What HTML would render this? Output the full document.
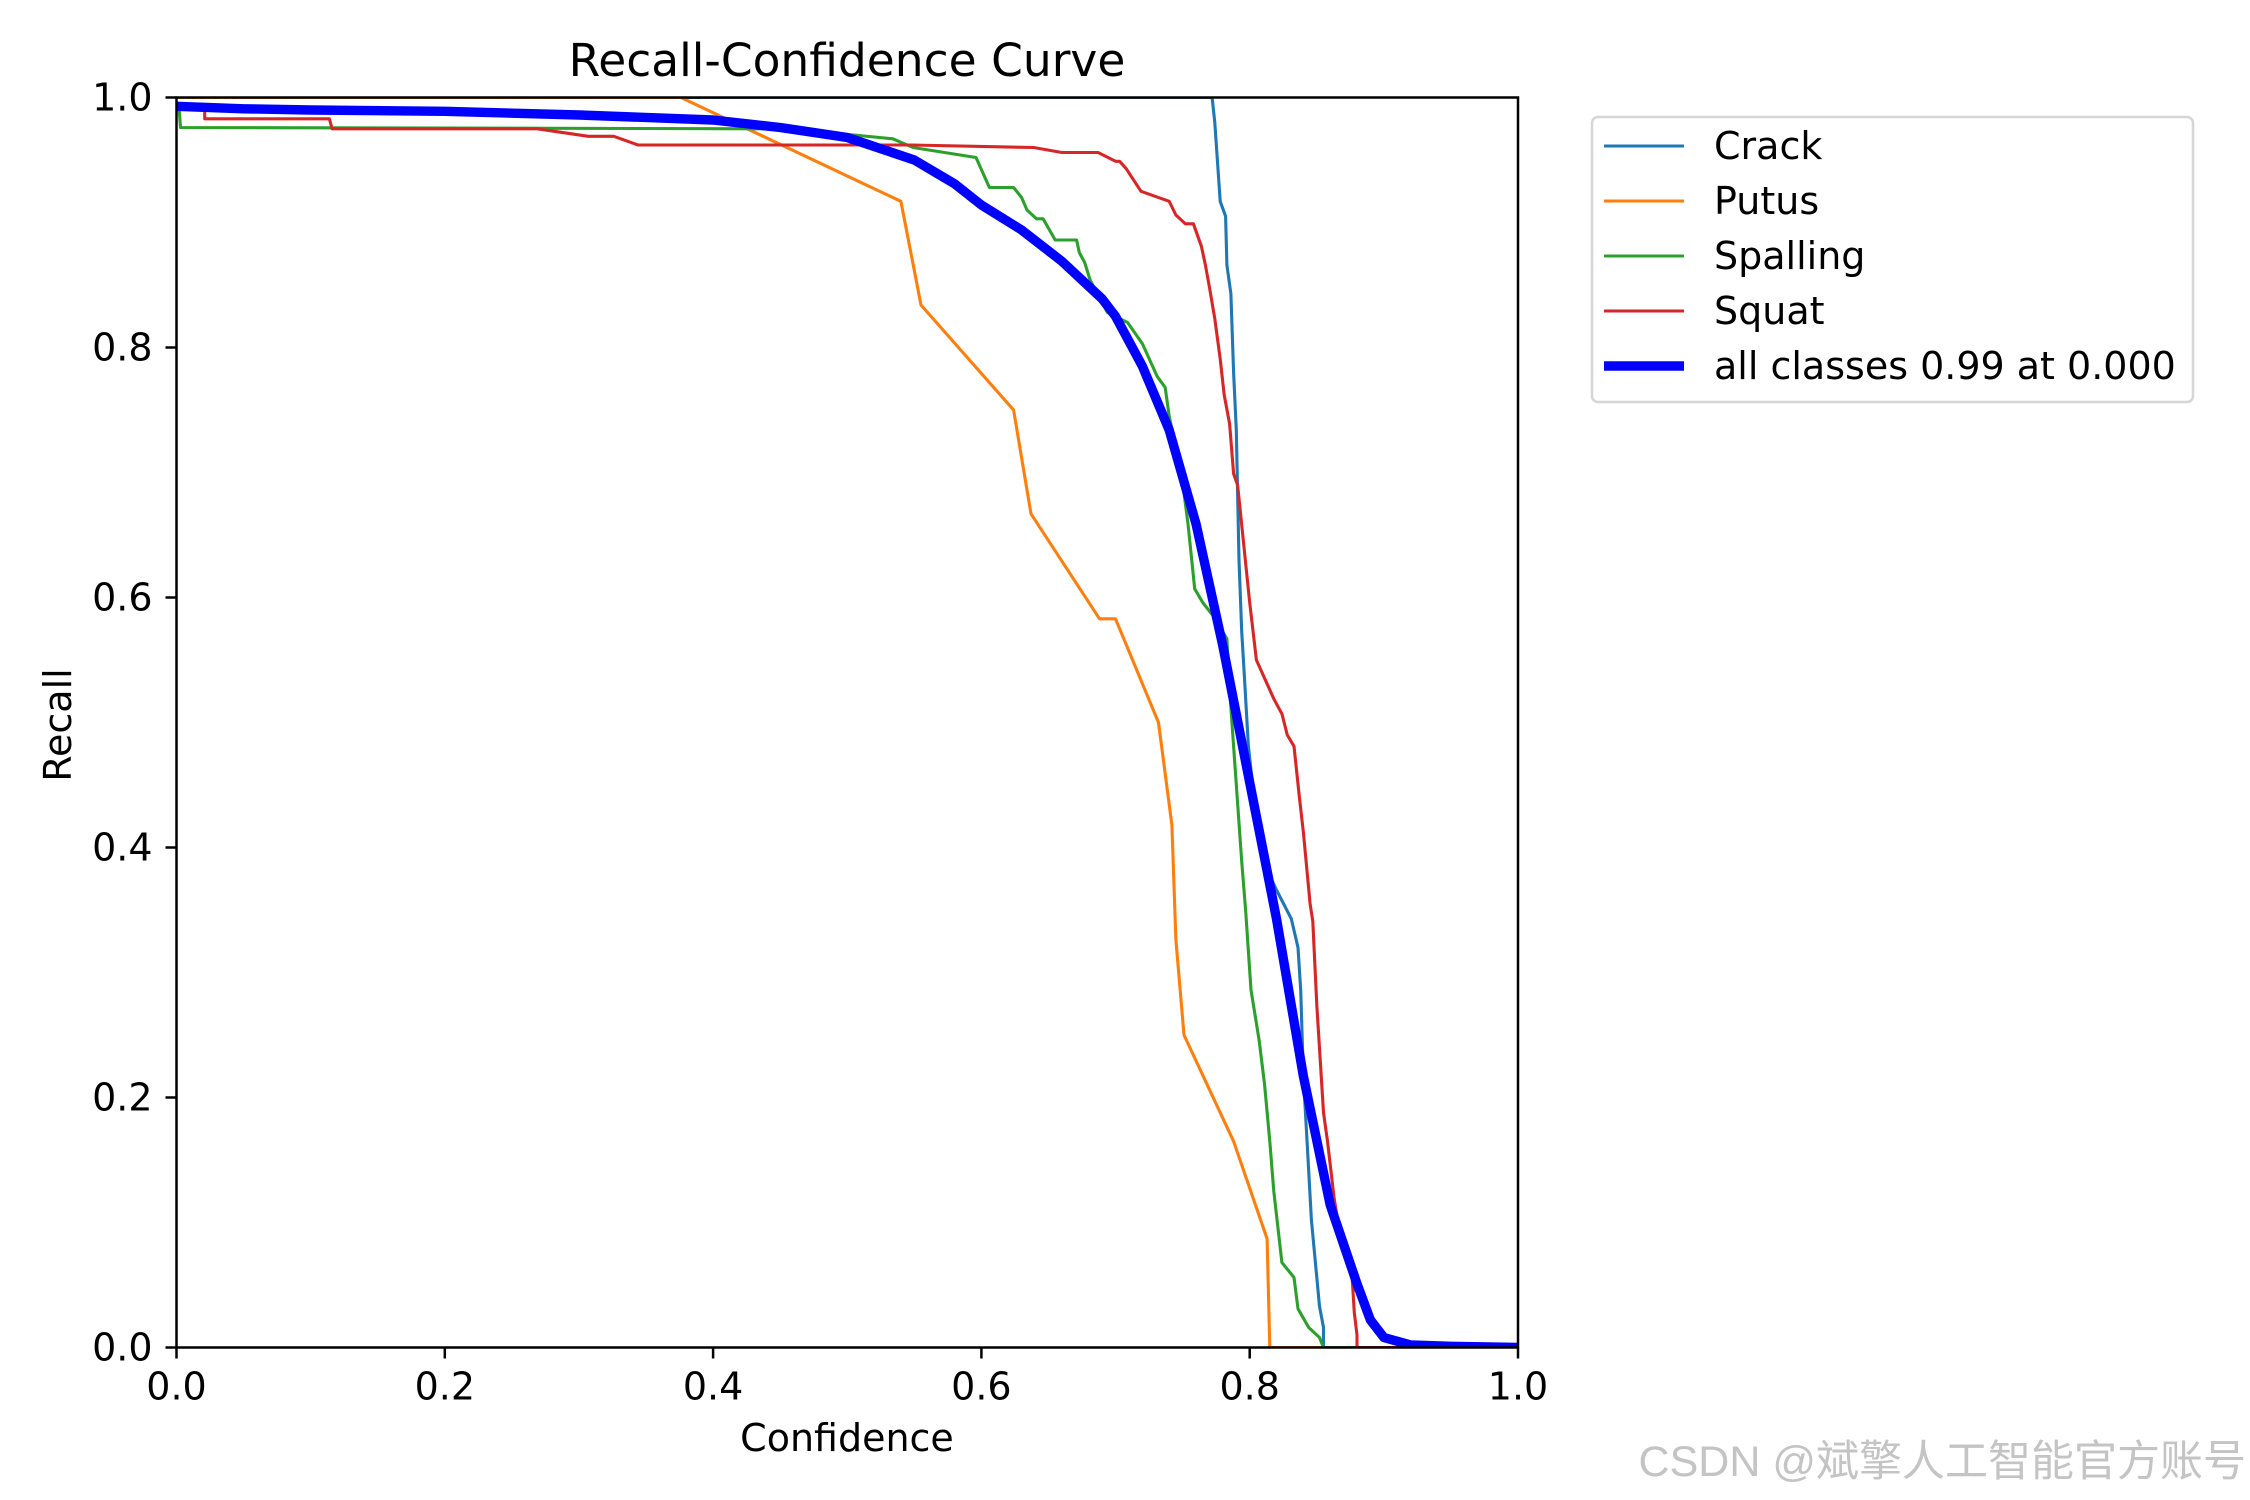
<!DOCTYPE html>
<html><head><meta charset="utf-8"><style>
html,body{margin:0;padding:0;background:#fff;}
svg{display:block;font-family:"DejaVu Sans","Liberation Sans",sans-serif;}
</style></head><body>
<svg id="chart" width="2250" height="1500" viewBox="0 0 2250 1500">
<defs><clipPath id="clip"><rect x="176.5" y="97.5" width="1341.5" height="1250"/></clipPath></defs>
<rect width="2250" height="1500" fill="#fff"/>
<text x="847" y="76" font-size="45.5" text-anchor="middle">Recall-Confidence Curve</text>
<g id="series" clip-path="url(#clip)"></g>
<g id="axes"></g>
<text x="847" y="1451" font-size="38" text-anchor="middle">Confidence</text>
<text transform="translate(71,725) rotate(-90)" font-size="38" text-anchor="middle">Recall</text>
<g>
<rect x="1592" y="117" width="601" height="285" rx="6" fill="#fff" stroke="#d6d6d6" stroke-width="2.5"/>
<g id="legend-items"></g>
</g>
<text x="2246" y="1476" font-size="43" fill="#c4c4c4" text-anchor="end" font-family="'Liberation Sans','Noto Sans CJK SC',sans-serif">CSDN @斌擎人工智能官方账号</text>
</svg>
<script>
const xTicks = [0, 0.2, 0.4, 0.6, 0.8, 1.0];
const yTicks = [0, 0.2, 0.4, 0.6, 0.8, 1.0];
const tickLabels = ["0.0", "0.2", "0.4", "0.6", "0.8", "1.0"];
const seriesNames = ["Crack", "Putus", "Spalling", "Squat", "all classes 0.99 at 0.000"];
const crackX = [0,0.772,0.774,0.778,0.782,0.783,0.786,0.788,0.79,0.792,0.794,0.796,0.799,0.802,0.806,0.81,0.82,0.831,0.836,0.838,0.84,0.843,0.846,0.849,0.852,0.855,0.855,1.0];
const crackY = [1.0,1.0,0.98,0.917,0.905,0.866,0.843,0.78,0.734,0.63,0.573,0.538,0.481,0.452,0.412,0.389,0.366,0.343,0.32,0.286,0.217,0.16,0.102,0.068,0.033,0.016,0,0];
const putusX = [0,0.376,0.54,0.555,0.624,0.637,0.688,0.7,0.732,0.742,0.745,0.751,0.788,0.813,0.815,1.0];
const putusY = [1.0,1.0,0.917,0.834,0.75,0.667,0.583,0.583,0.5,0.418,0.326,0.25,0.165,0.087,0,0];
const spallX = [0,0.002,0.003,0.446,0.505,0.534,0.549,0.596,0.601,0.606,0.624,0.63,0.634,0.641,0.646,0.655,0.671,0.673,0.677,0.681,0.694,0.709,0.72,0.731,0.737,0.74,0.749,0.754,0.759,0.765,0.773,0.783,0.785,0.788,0.794,0.797,0.801,0.807,0.811,0.815,0.818,0.824,0.833,0.836,0.844,0.852,0.855,1.0];
const spallY = [0.99,0.99,0.976,0.975,0.97,0.967,0.96,0.952,0.94,0.928,0.928,0.92,0.91,0.903,0.903,0.886,0.886,0.876,0.868,0.854,0.828,0.82,0.803,0.777,0.768,0.745,0.7,0.659,0.607,0.596,0.585,0.567,0.527,0.481,0.389,0.349,0.286,0.246,0.211,0.165,0.125,0.068,0.056,0.031,0.016,0.008,0,0];
const squatX = [0,0.021,0.021,0.114,0.116,0.269,0.307,0.326,0.344,0.548,0.639,0.66,0.687,0.7,0.703,0.708,0.719,0.74,0.745,0.752,0.758,0.764,0.767,0.77,0.774,0.778,0.781,0.785,0.788,0.791,0.795,0.8,0.805,0.818,0.824,0.828,0.833,0.837,0.84,0.845,0.847,0.85,0.855,0.858,0.863,0.869,0.876,0.878,0.88,0.88,1.0];
const squatY = [0.991,0.991,0.983,0.983,0.975,0.975,0.969,0.969,0.962,0.962,0.96,0.956,0.956,0.949,0.949,0.943,0.925,0.917,0.906,0.899,0.899,0.881,0.866,0.848,0.823,0.791,0.762,0.739,0.699,0.69,0.648,0.596,0.55,0.519,0.507,0.49,0.481,0.441,0.412,0.355,0.341,0.274,0.188,0.165,0.119,0.079,0.062,0.028,0.01,0,0];
const allX = [0,0.05,0.1,0.2,0.3,0.4,0.45,0.5,0.55,0.58,0.6,0.63,0.66,0.69,0.7,0.72,0.74,0.76,0.78,0.8,0.82,0.84,0.86,0.88,0.89,0.9,0.92,0.95,1.0];
const allY = [0.993,0.991,0.99,0.989,0.986,0.982,0.976,0.968,0.95,0.931,0.914,0.894,0.869,0.839,0.825,0.785,0.734,0.659,0.561,0.452,0.343,0.217,0.114,0.051,0.022,0.008,0.002,0.001,0.0];

const NS = "http://www.w3.org/2000/svg";
const L = 176.5, R = 1518, T = 97.5, B = 1347.5;
function sx(v){ return L + v * (R - L); }
function sy(v){ return B - v * (B - T); }
function mk(tag, attrs, parent){
  const e = document.createElementNS(NS, tag);
  for (const k in attrs) e.setAttribute(k, attrs[k]);
  parent.appendChild(e);
  return e;
}
const seriesG = document.getElementById('series');
const axesG = document.getElementById('axes');
const legendG = document.getElementById('legend-items');
const colors = ["#1f77b4", "#ff7f0e", "#2ca02c", "#d62728", "#0000ff"];
const widths = [3.1, 3.1, 3.1, 3.1, 9.4];
const xs = [crackX, putusX, spallX, squatX, allX];
const ys = [crackY, putusY, spallY, squatY, allY];
const lineNames = ["crack-line", "putus-line", "spalling-line", "squat-line", "all-classes-line"];
for (let i = 0; i < 5; i++) {
  const pts = xs[i].map((x, j) => sx(x).toFixed(1) + "," + sy(ys[i][j]).toFixed(1)).join(" ");
  const pl = mk('polyline', {points: pts, fill: 'none', stroke: colors[i], 'stroke-width': widths[i], 'stroke-linejoin': 'round'}, seriesG);
  
  
}
const fr = mk('rect', {x: L, y: T, width: R - L, height: B - T, fill: 'none', stroke: '#000', 'stroke-width': 2.5}, axesG);


for (let i = 0; i < xTicks.length; i++) {
  const x = sx(xTicks[i]);
  const t = mk('line', {x1: x, x2: x, y1: B, y2: B + 11, stroke: '#000', 'stroke-width': 2.5}, axesG);
  
  
  const lb = mk('text', {x: x, y: B + 52, 'font-size': 38, 'text-anchor': 'middle'}, axesG);
  lb.textContent = tickLabels[i];
  
  
}
for (let i = 0; i < yTicks.length; i++) {
  const y = sy(yTicks[i]);
  const t = mk('line', {x1: L - 11, x2: L, y1: y, y2: y, stroke: '#000', 'stroke-width': 2.5}, axesG);
  
  
  const lb = mk('text', {x: L - 24, y: y + 13, 'font-size': 38, 'text-anchor': 'end'}, axesG);
  lb.textContent = tickLabels[i];
  
  
}
for (let i = 0; i < 5; i++) {
  const y = 146 + i * 55;
  const ln = mk('line', {x1: 1604, x2: 1684, y1: y, y2: y, stroke: colors[i], 'stroke-width': widths[i]}, legendG);
  
  
  const tx = mk('text', {x: 1714, y: y + 13, 'font-size': 38}, legendG);
  tx.textContent = seriesNames[i];
  
  
}
</script>
</body></html>
